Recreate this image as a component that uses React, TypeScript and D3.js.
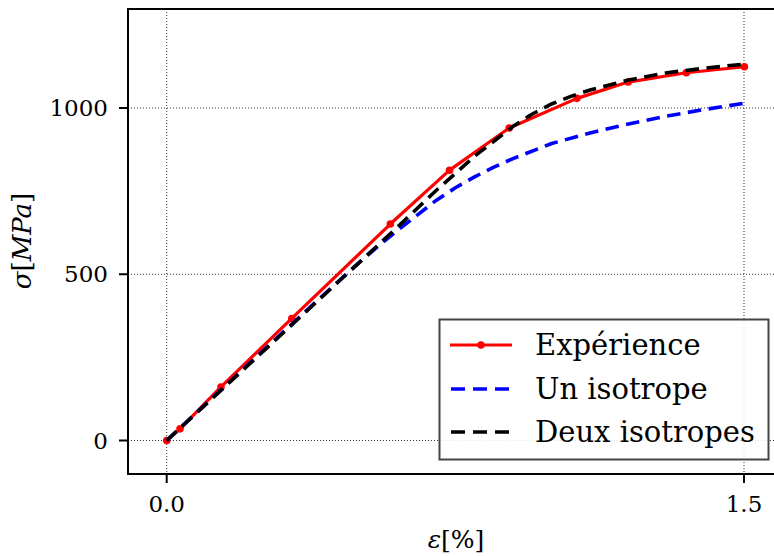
import React from "react";
import * as d3 from "d3";

const expX = [0, 0.0346, 0.141, 0.325, 0.581, 0.735, 0.89, 1.066, 1.199, 1.35, 1.501];
const expY = [0, 35, 161, 367, 651, 813, 940, 1029, 1078, 1106, 1124];

const unX = [0, 0.1, 0.2, 0.3, 0.4, 0.5, 0.55, 0.6, 0.65, 0.7, 0.75, 0.8, 0.85, 0.9, 1.0, 1.1, 1.2, 1.3, 1.4, 1.5];
const unY = [0, 108, 216, 323, 430, 535, 585, 632, 677, 722, 760, 793, 822, 848, 893, 925, 952, 976, 996, 1014];

const deuxX = [0, 0.1, 0.2, 0.3, 0.4, 0.5, 0.6, 0.7, 0.75, 0.8, 0.85, 0.9, 0.95, 1.0, 1.05, 1.1, 1.2, 1.3, 1.4, 1.5];
const deuxY = [0, 107, 214, 321, 428, 535, 642, 752, 803, 855, 900, 945, 982, 1012, 1035, 1054, 1084, 1106, 1120, 1132];

const xTicks = [0, 1.5];
const yTicks = [0, 500, 1000];
const legendLabels = ["Expérience", "Un isotrope", "Deux isotropes"];

const FONT = "'DejaVu Serif', serif";

export default function App() {
  const left = 128, top = 9, bottom = 474, right = 800;
  const k = (744 - 166.7) / 1.5;
  const x = d3.scaleLinear().domain([(left - 166.7) / k, (right - 166.7) / k]).range([left, right]);
  const ky = (440.5 - 108) / 1000;
  const y = d3.scaleLinear().domain([(440.5 - bottom) / ky, (440.5 - top) / ky]).range([bottom, top]);

  const line = d3.line<[number, number]>().x((d) => x(d[0])).y((d) => y(d[1]));
  const expPts: [number, number][] = expX.map((v, i) => [v, expY[i]]);
  const unPts: [number, number][] = unX.map((v, i) => [v, unY[i]]);
  const deuxPts: [number, number][] = deuxX.map((v, i) => [v, deuxY[i]]);

  const lx0 = 450, lx1 = 512, tx = 535;
  const rows = [345, 389, 432];

  return (
    <svg width={774} height={556} style={{ position: "absolute", left: 0, top: 0, background: "#fff" }}>
      <defs>
        <clipPath id="plot">
          <rect x={left} y={top} width={right - left} height={bottom - top} />
        </clipPath>
      </defs>
      {/* grid */}
      {xTicks.map((t) => (
        <line key={"gx" + t} x1={x(t)} x2={x(t)} y1={top} y2={bottom} stroke="#333" strokeWidth={1} strokeDasharray="1,2" />
      ))}
      {yTicks.map((t) => (
        <line key={"gy" + t} x1={left} x2={right} y1={y(t)} y2={y(t)} stroke="#333" strokeWidth={1} strokeDasharray="1,2" />
      ))}
      <g clipPath="url(#plot)">
        <path d={line(expPts) || ""} fill="none" stroke="#ff0000" strokeWidth={3.2} strokeLinejoin="round" />
        {expPts.map((p, i) => (
          <circle key={i} cx={x(p[0])} cy={y(p[1])} r={3.8} fill="#ff0000" />
        ))}
        <path d={line(unPts) || ""} fill="none" stroke="#0000ff" strokeWidth={3.6} strokeDasharray="13.5,7.5" />
        <path d={line(deuxPts) || ""} fill="none" stroke="#000" strokeWidth={3.6} strokeDasharray="13.5,7.5" />
      </g>
      {/* spines */}
      <line x1={left} x2={left} y1={top} y2={bottom} stroke="#000" strokeWidth={2} />
      <line x1={left - 1} x2={right} y1={bottom} y2={bottom} stroke="#000" strokeWidth={2} />
      <line x1={left - 1} x2={right} y1={top} y2={top} stroke="#000" strokeWidth={2} />
      {/* ticks */}
      {xTicks.map((t) => (
        <g key={"tx" + t}>
          <line x1={x(t)} x2={x(t)} y1={bottom} y2={bottom + 9} stroke="#000" strokeWidth={2} />
          <text x={x(t)} y={512} textAnchor="middle" fontFamily={FONT} fontSize={23}>
            {d3.format(".1f")(t)}
          </text>
        </g>
      ))}
      {yTicks.map((t) => (
        <g key={"ty" + t}>
          <line x1={left - 9} x2={left} y1={y(t)} y2={y(t)} stroke="#000" strokeWidth={2} />
          <text x={108} y={y(t) + 8} textAnchor="end" fontFamily={FONT} fontSize={23}>
            {t}
          </text>
        </g>
      ))}
      {/* axis labels */}
      <text x={456} y={548} textAnchor="middle" fontFamily={FONT} fontSize={25}>
        <tspan fontStyle="italic">ε</tspan>
        <tspan>[%]</tspan>
      </text>
      <text transform="translate(31,241) rotate(-90)" textAnchor="middle" fontFamily={FONT} fontSize={26}>
        <tspan fontStyle="italic">σ</tspan>
        <tspan>[</tspan>
        <tspan fontStyle="italic">MPa</tspan>
        <tspan>]</tspan>
      </text>
      {/* legend */}
      <rect x={439.5} y={319.5} width={329} height={140} fill="#fff" fillOpacity={0.85} stroke="#444" strokeWidth={2} />
      <line x1={lx0} x2={lx1} y1={rows[0]} y2={rows[0]} stroke="#ff0000" strokeWidth={3.2} />
      <circle cx={(lx0 + lx1) / 2} cy={rows[0]} r={3.8} fill="#ff0000" />
      <line x1={lx0 + 1} x2={lx1 - 2} y1={rows[1]} y2={rows[1]} stroke="#0000ff" strokeWidth={3.6} strokeDasharray="14,8" />
      <line x1={lx0 + 1} x2={lx1 - 2} y1={rows[2]} y2={rows[2]} stroke="#000" strokeWidth={3.6} strokeDasharray="14,8" />
      {legendLabels.map((l, i) => (
        <text key={l} x={tx} y={rows[i] + 10} fontFamily={FONT} fontSize={29}>
          {l}
        </text>
      ))}
    </svg>
  );
}
